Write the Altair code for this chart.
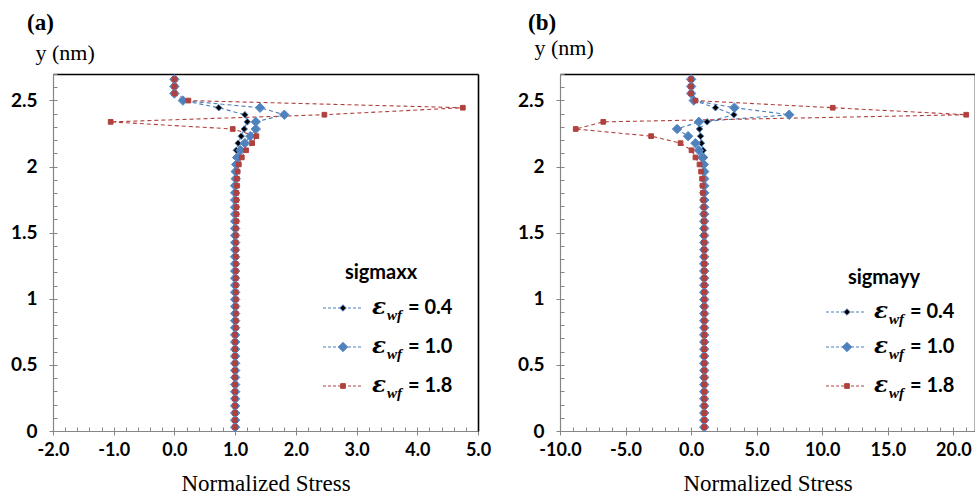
import altair as alt
import pandas as pd

# ---------------- data ----------------
y_nm = [2.660, 2.606, 2.553, 2.499, 2.445, 2.392, 2.338, 2.284, 2.230, 2.177,
        2.123, 2.069, 2.016, 1.962, 1.908, 1.855, 1.801, 1.747, 1.693, 1.640,
        1.586, 1.532, 1.479, 1.425, 1.371, 1.318, 1.264, 1.210, 1.156, 1.103,
        1.049, 0.995, 0.942, 0.888, 0.834, 0.781, 0.727, 0.673, 0.619, 0.566,
        0.512, 0.458, 0.405, 0.351, 0.297, 0.244, 0.190, 0.136, 0.082, 0.029]

sxx_04 = [0.00, 0.00, 0.00, 0.14, 0.73, 1.16, 1.20, 1.15, 1.10, 1.05,
          1.02, 1.01, 1.00, 1.00, 1.00, 1.00, 1.00, 1.00, 1.00, 1.00,
          1.00, 1.00, 1.00, 1.00, 1.00, 1.00, 1.00, 1.00, 1.00, 1.00,
          1.00, 1.00, 1.00, 1.00, 1.00, 1.00, 1.00, 1.00, 1.00, 1.00,
          1.00, 1.00, 1.00, 1.00, 1.00, 1.00, 1.00, 1.00, 1.00, 1.00]
sxx_10 = [0.00, 0.00, 0.00, 0.14, 1.41, 1.81, 1.34, 1.34, 1.25, 1.16,
          1.09, 1.05, 1.02, 1.01, 1.01, 1.00, 1.00, 1.00, 1.00, 1.00,
          1.00, 1.00, 1.00, 1.00, 1.00, 1.00, 1.00, 1.00, 1.00, 1.00,
          1.00, 1.00, 1.00, 1.00, 1.00, 1.00, 1.00, 1.00, 1.00, 1.00,
          1.00, 1.00, 1.00, 1.00, 1.00, 1.00, 1.00, 1.00, 1.00, 1.00]
sxx_18 = [0.00, 0.00, 0.00, 0.23, 4.75, 2.47, -1.05, 0.96, 1.35, 1.28,
          1.18, 1.11, 1.06, 1.04, 1.03, 1.03, 1.02, 1.02, 1.02, 1.02,
          1.02, 1.01, 1.01, 1.01, 1.01, 1.01, 1.01, 1.01, 1.01, 1.01,
          1.01, 1.01, 1.01, 1.01, 1.01, 1.01, 1.00, 1.00, 1.00, 1.00,
          1.00, 1.00, 1.00, 1.00, 1.00, 1.00, 1.00, 1.00, 1.00, 1.00]

syy_04 = [0.00, 0.00, 0.00, 0.20, 1.86, 3.26, 1.22, 0.64, 0.72, 0.79,
          0.92, 1.02, 1.00, 1.00, 1.00, 1.00, 1.00, 1.00, 1.00, 1.00,
          1.00, 1.00, 1.00, 1.00, 1.00, 1.00, 1.00, 1.00, 1.00, 1.00,
          1.00, 1.00, 1.00, 1.00, 1.00, 1.00, 1.00, 1.00, 1.00, 1.00,
          1.00, 1.00, 1.00, 1.00, 1.00, 1.00, 1.00, 1.00, 1.00, 1.00]
syy_10 = [0.00, 0.00, 0.00, 0.20, 3.30, 7.48, 0.59, -1.07, -0.23, 0.33,
          0.59, 0.84, 0.97, 1.00, 1.00, 1.00, 1.00, 1.00, 1.00, 1.00,
          1.00, 1.00, 1.00, 1.00, 1.00, 1.00, 1.00, 1.00, 1.00, 1.00,
          1.00, 1.00, 1.00, 1.00, 1.00, 1.00, 1.00, 1.00, 1.00, 1.00,
          1.00, 1.00, 1.00, 1.00, 1.00, 1.00, 1.00, 1.00, 1.00, 1.00]
syy_18 = [0.00, 0.00, 0.00, 0.33, 10.80, 20.98, -6.70, -8.80, -3.05, -0.81,
          0.03, 0.33, 0.64, 0.76, 0.84, 0.87, 0.90, 0.93, 0.95, 0.96,
          0.97, 0.97, 0.98, 0.98, 0.99, 0.99, 0.99, 0.99, 1.00, 1.00,
          1.00, 1.00, 1.00, 1.00, 1.00, 1.00, 1.00, 1.00, 1.00, 1.00,
          1.00, 1.00, 1.00, 1.00, 1.00, 1.00, 1.00, 1.00, 1.00, 1.00]

series_labels = ["0.4", "1.0", "1.8"]
legend_titles = ["sigmaxx", "sigmayy"]
panel_letters = ["(a)", "(b)"]
x_ticks_a = [-2, -1, 0, 1, 2, 3, 4, 5]
x_ticks_b = [-10, -5, 0, 5, 10, 15, 20]
y_ticks = [0, 0.5, 1, 1.5, 2, 2.5]
x_minor_a = [round(-2 + 0.2 * i, 2) for i in range(36)]
x_minor_b = [-10 + i for i in range(32)]
y_minor = [round(0.1 * i, 2) for i in range(28)]

# ---------------- style ----------------
GRAY = "#868686"
line_colors = ["#4A7EBB", "#4A7EBB", "#B0413E"]
fill_colors = ["#000000", "#4F81BD", "#B0413E"]
stroke_colors = ["#4F81BD", "#5B8BC6", "#B0413E"]
shapes = ["diamond", "diamond", "square"]
sizes = [42, 90, 22]
SERIF = "'Liberation Serif', 'Times New Roman', Times, serif"
SANS = "Lato, 'Open Sans', sans-serif"


def make_panel(xs_list, x_domain, x_major, x_minor, width, letter, leg_title,
               letter_x, ytitle_x, ytitle_y, leg):
    rows = []
    for lab, xs in zip(series_labels, xs_list):
        for k, (xv, yv) in enumerate(zip(xs, y_nm)):
            rows.append({"series": lab, "k": k, "x": xv, "y": yv})
    df = pd.DataFrame(rows)

    xscale = alt.Scale(domain=x_domain, nice=False, zero=False)
    yscale = alt.Scale(domain=[0, 2.7], nice=False, zero=False)
    base = alt.Chart(df)

    # dashed lines + inward minor ticks
    lines = base.mark_line(strokeDash=[4, 3], strokeWidth=1.1).encode(
        x=alt.X("x:Q", scale=xscale,
                axis=alt.Axis(orient="bottom", values=x_minor, labels=False,
                              domain=False, ticks=True, tickSize=4,
                              tickColor=GRAY, offset=-4, grid=False, title=None)),
        y=alt.Y("y:Q", scale=yscale,
                axis=alt.Axis(orient="left", values=y_minor, labels=False,
                              domain=False, ticks=True, tickSize=4,
                              tickColor=GRAY, offset=-4, grid=False, title=None)),
        color=alt.Color("series:N", scale=alt.Scale(domain=series_labels, range=line_colors),
                        legend=None),
        order="k:Q",
    )

    main_x_axis = alt.Axis(orient="bottom", values=x_major,
                           labelExpr="(datum.value < 0 ? '-' : '') + format(abs(datum.value), '.1f')",
                           labelFont=SANS, labelFontWeight="bold", labelFontSize=18,
                           labelColor="black", labelPadding=6, labelFlush=False,
                           labelOverlap=False, tickSize=4, tickColor=GRAY,
                           domainColor=GRAY, domainWidth=1.2, grid=False,
                           title="Normalized Stress", titleFont=SERIF,
                           titleFontSize=23, titleFontWeight="normal",
                           titleBaseline="alphabetic",
                           titleColor="black", titlePadding=31)
    main_y_axis = alt.Axis(orient="left", values=y_ticks, format="~g",
                           labelFont=SANS, labelFontWeight="bold", labelFontSize=19,
                           labelColor="black", labelPadding=12, labelFlush=False,
                           labelOverlap=False, tickSize=4, tickColor=GRAY,
                           domainColor=GRAY, domainWidth=1.2, grid=False,
                           title="y (nm)", titleAngle=0, titleAlign="left",
                           titleBaseline="alphabetic", titleX=ytitle_x, titleY=ytitle_y,
                           titleFont=SERIF, titleFontSize=22, titleFontWeight="normal",
                           titleColor="black")

    layers = [lines]
    # markers: one layer per series (drawn black, blue, red)
    for i, lab in enumerate(series_labels):
        layers.append(
            base.transform_filter(alt.datum.series == lab)
            .mark_point(filled=True, opacity=1, shape=shapes[i], size=sizes[i],
                        fill=fill_colors[i], stroke=stroke_colors[i], strokeWidth=1)
            .encode(
                x=alt.X("x:Q", scale=xscale, axis=main_x_axis if i == 0 else None),
                y=alt.Y("y:Q", scale=yscale, axis=main_y_axis if i == 0 else None),
            )
        )

    # black frame on top and right
    frame = base.mark_point(opacity=0).encode(
        x=alt.X("x:Q", scale=xscale,
                axis=alt.Axis(orient="top", labels=False, ticks=False, domain=True,
                              domainColor="black", domainWidth=1.6, grid=False, title=None)),
        y=alt.Y("y:Q", scale=yscale,
                axis=alt.Axis(orient="right", labels=False, ticks=False, domain=True,
                              domainColor="black", domainWidth=1.6, grid=False, title=None)),
    )
    layers.append(frame)

    # panel letter
    layers.append(
        alt.Chart(pd.DataFrame({"t": [letter]})).mark_text(
            font=SERIF, fontWeight="bold", fontSize=23, align="left",
            baseline="alphabetic", color="black")
        .encode(x=alt.value(letter_x), y=alt.value(-44), text="t:N")
    )

    # legend (drawn inside the plot)
    layers.append(
        alt.Chart(pd.DataFrame({"t": [leg_title]})).mark_text(
            font=SANS, fontWeight="bold", fontSize=20, align="center",
            baseline="alphabetic", color="black")
        .encode(x=alt.value(leg["tx"]), y=alt.value(leg["ty"]), text="t:N")
    )
    for i, lab in enumerate(series_labels):
        ry = leg["rows"][i]
        c = alt.Chart(pd.DataFrame({"lab": [lab]}))
        layers.append(
            c.mark_rule(strokeDash=[3, 2], strokeWidth=1.1, color=line_colors[i])
            .encode(x=alt.value(leg["l0"]), x2=alt.value(leg["l1"]), y=alt.value(ry))
        )
        layers.append(
            c.mark_point(filled=True, opacity=1, shape=shapes[i], size=sizes[i],
                         fill=fill_colors[i], stroke=stroke_colors[i], strokeWidth=1)
            .encode(x=alt.value(leg["mx"]), y=alt.value(ry))
        )
        layers.append(
            c.mark_text(text="\u03b5", font="'DejaVu Serif', serif", fontStyle="italic",
                        fontWeight="bold", fontSize=23, align="left", baseline="middle",
                        color="black")
            .encode(x=alt.value(leg["ex"]), y=alt.value(ry - 1))
        )
        layers.append(
            c.mark_text(text="wf", font=SERIF, fontStyle="italic", fontWeight="bold",
                        fontSize=15, align="left", baseline="middle", color="black")
            .encode(x=alt.value(leg["ex"] + 15), y=alt.value(ry + 7))
        )
        layers.append(
            c.transform_calculate(t="'= ' + datum.lab")
            .mark_text(font=SANS, fontWeight="bold", fontSize=20, align="left",
                       baseline="middle", color="black")
            .encode(x=alt.value(leg["ex"] + 36), y=alt.value(ry), text="t:N")
        )

    return alt.layer(*layers).resolve_axis(x="independent", y="independent").properties(
        width=width, height=357,
    )


leg_a = {"tx": 328, "ty": 205, "rows": [234, 273, 312], "l0": 270, "l1": 309,
         "mx": 290, "ex": 319}
leg_b = {"tx": 324, "ty": 210, "rows": [238, 273, 312], "l0": 266, "l1": 306,
         "mx": 287, "ex": 314}

pa = make_panel([sxx_04, sxx_10, sxx_18], [-2, 5], x_ticks_a, x_minor_a, 425,
                panel_letters[0], legend_titles[0], -26, -18, -15, leg_a)
pb = make_panel([syy_04, syy_10, syy_18], [-10, 21.65], x_ticks_b, x_minor_b, 415,
                panel_letters[1], legend_titles[1], -32, -26, -20, leg_b)

chart = alt.hconcat(pa, pb, spacing=26).properties(
    padding={"left": 10, "top": 12, "right": 0, "bottom": 0},
    background="white",
).configure_view(stroke=None)

chart.save("out.html", embed_options={"renderer": "svg", "actions": False})
